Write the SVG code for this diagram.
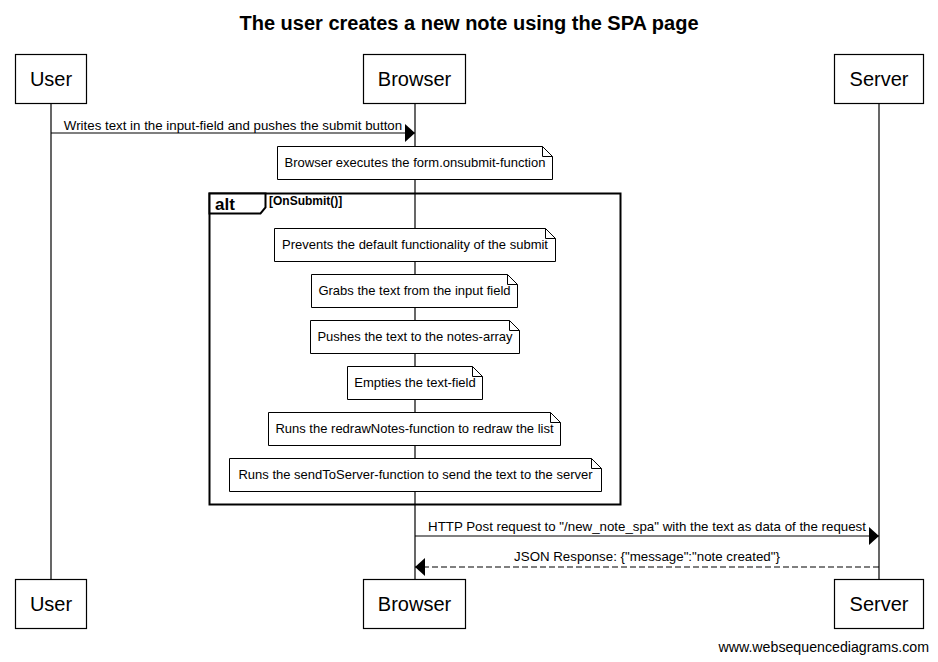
<svg xmlns="http://www.w3.org/2000/svg" width="938" height="662" viewBox="0 0 938 662">
<style>
text{font-family:"Liberation Sans",Arial,sans-serif;fill:#000}
.actor rect{fill:#fff;stroke:#000;stroke-width:1.2}
.actor text{font-size:20px;text-anchor:middle}
.note path{fill:#fff;stroke:#000;stroke-width:1}
.note text{font-size:13px;text-anchor:middle}
.life{stroke:#000;stroke-width:1.2}
.msg{stroke:#000;stroke-width:1.2;fill:none}
.lbl{font-size:13.3px;text-anchor:middle}
</style>
<defs>
<marker id="ah" viewBox="0 0 10 18" refX="10" refY="9" markerWidth="10" markerHeight="18" markerUnits="userSpaceOnUse" orient="auto">
<path d="M0,0 L10,9 L0,18 Z" fill="#000"/>
</marker>
</defs>
<rect width="938" height="662" fill="#fff"/>
<text x="469" y="30" font-size="20" font-weight="bold" text-anchor="middle">The user creates a new note using the SPA page</text>

<g id="lifelines">
<line class="life" x1="51" y1="103" x2="51" y2="580"/>
<line class="life" x1="415" y1="103" x2="415" y2="580"/>
<line class="life" x1="879" y1="103" x2="879" y2="580"/>
</g>

<g id="actor-user-top" class="actor"><rect x="15.5" y="54.5" width="71" height="49"/><text x="51" y="86">User</text></g>
<g id="actor-browser-top" class="actor"><rect x="363.5" y="54.5" width="102" height="49"/><text x="414.5" y="86">Browser</text></g>
<g id="actor-server-top" class="actor"><rect x="834.5" y="54.5" width="89" height="49"/><text x="879" y="86">Server</text></g>

<g id="actor-user-bottom" class="actor"><rect x="15.5" y="579.5" width="71" height="49"/><text x="51" y="611">User</text></g>
<g id="actor-browser-bottom" class="actor"><rect x="363.5" y="579.5" width="102" height="49"/><text x="414.5" y="611">Browser</text></g>
<g id="actor-server-bottom" class="actor"><rect x="834.5" y="579.5" width="89" height="49"/><text x="879" y="611">Server</text></g>

<g id="alt-frame">
<rect x="209.5" y="193.5" width="411" height="311" fill="none" stroke="#000" stroke-width="2"/>
<path d="M209.5,193.5 H265.5 V207.5 L260.5,213.5 H209.5 Z" fill="#fff" stroke="#000" stroke-width="2"/>
<text x="215" y="210" font-size="17" font-weight="bold">alt</text>
<text x="269" y="204.5" font-size="12" font-weight="bold">[OnSubmit()]</text>
</g>

<g id="note-onsubmit" class="note"><path d="M277.5,146.5 H542.5 L552.5,156.5 V179.5 H277.5 Z M542.5,146.5 V156.5 H552.5"/><text x="415" y="167">Browser executes the form.onsubmit-function</text></g>
<g id="note-prevent" class="note"><path d="M274.5,228.5 H545.5 L555.5,238.5 V261.5 H274.5 Z M545.5,228.5 V238.5 H555.5"/><text x="415" y="249">Prevents the default functionality of the submit</text></g>
<g id="note-grab" class="note"><path d="M311.5,274.5 H507.5 L517.5,284.5 V307.5 H311.5 Z M507.5,274.5 V284.5 H517.5"/><text x="414.5" y="295">Grabs the text from the input field</text></g>
<g id="note-push" class="note"><path d="M310.5,320.5 H509.5 L519.5,330.5 V353.5 H310.5 Z M509.5,320.5 V330.5 H519.5"/><text x="415" y="341">Pushes the text to the notes-array</text></g>
<g id="note-empty" class="note"><path d="M347.5,366.5 H472.5 L482.5,376.5 V399.5 H347.5 Z M472.5,366.5 V376.5 H482.5"/><text x="415" y="387">Empties the text-field</text></g>
<g id="note-redraw" class="note"><path d="M268.5,412.5 H550.5 L560.5,422.5 V445.5 H268.5 Z M550.5,412.5 V422.5 H560.5"/><text x="414.5" y="433">Runs the redrawNotes-function to redraw the list</text></g>
<g id="note-send" class="note"><path d="M229.5,458.5 H591.5 L601.5,468.5 V491.5 H229.5 Z M591.5,458.5 V468.5 H601.5"/><text x="415.5" y="479">Runs the sendToServer-function to send the text to the server</text></g>

<g id="connectors">
<line class="msg" x1="51" y1="133" x2="415" y2="133" marker-end="url(#ah)"/>
<text class="lbl" x="233" y="130">Writes text in the input-field and pushes the submit button</text>
<line class="msg" x1="415" y1="536" x2="879" y2="536" marker-end="url(#ah)"/>
<text class="lbl" x="647" y="531">HTTP Post request to "/new_note_spa" with the text as data of the request</text>
<line class="msg" x1="879" y1="567" x2="415" y2="567" stroke-dasharray="6,3" marker-end="url(#ah)"/>
<text class="lbl" x="647" y="561">JSON Response: {"message":"note created"}</text>
</g>

<text x="929" y="652" font-size="14.2" text-anchor="end">www.websequencediagrams.com</text>
</svg>
